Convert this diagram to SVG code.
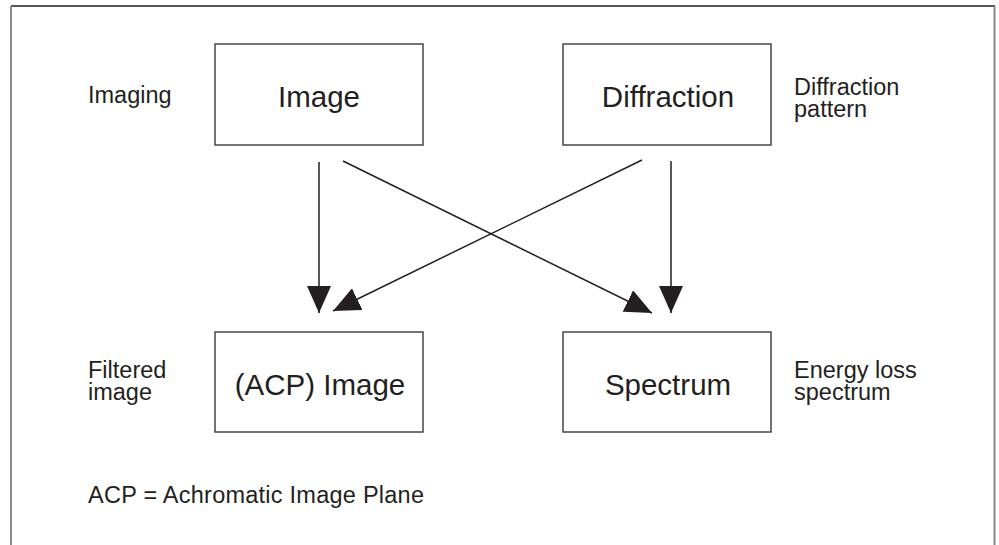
<svg xmlns="http://www.w3.org/2000/svg" width="999" height="545" viewBox="0 0 999 545">
<defs>
<marker id="ah" markerUnits="userSpaceOnUse" markerWidth="28" markerHeight="24" refX="27" refY="12" orient="auto">
<path d="M0,0 L27,12 L0,24 z" fill="#231f20"/>
</marker>
<style>
.box{fill:#fff;stroke:#3a3a3a;stroke-width:1.4}
.big{font-family:"Liberation Sans",Arial,sans-serif;font-size:29.5px;fill:#231f20;text-anchor:middle}
.lbl{font-family:"Liberation Sans",Arial,sans-serif;font-size:23.5px;fill:#231f20}
.con{stroke:#231f20;stroke-width:1.5;fill:none;marker-end:url(#ah)}
</style>
</defs>
<rect width="999" height="545" fill="#fff"/>
<g id="frame">
<line x1="11" y1="6" x2="995" y2="6" stroke="#231f20" stroke-width="1.5"/>
<line x1="11" y1="6" x2="11" y2="545" stroke="#8a8a8a" stroke-width="2"/>
<line x1="994.5" y1="6" x2="994.5" y2="545" stroke="#8a8a8a" stroke-width="2"/>
</g>
<g id="node-image">
<rect class="box" x="215" y="44" width="208" height="101"/>
<text class="big" x="319" y="107">Image</text>
</g>
<g id="node-diffraction">
<rect class="box" x="563" y="44" width="208" height="101"/>
<text class="big" x="668" y="107">Diffraction</text>
</g>
<g id="node-acp">
<rect class="box" x="215" y="332" width="208" height="100"/>
<text class="big" x="320" y="395">(ACP) Image</text>
</g>
<g id="node-spectrum">
<rect class="box" x="563" y="332" width="208" height="100"/>
<text class="big" x="668" y="395">Spectrum</text>
</g>
<g id="labels">
<text class="lbl" x="88" y="103">Imaging</text>
<text class="lbl" x="794" y="95">Diffraction</text>
<text class="lbl" x="794" y="117">pattern</text>
<text class="lbl" x="88" y="378">Filtered</text>
<text class="lbl" x="88" y="400">image</text>
<text class="lbl" x="794" y="378">Energy loss</text>
<text class="lbl" x="794" y="400">spectrum</text>
<text class="lbl" x="88" y="503" textLength="336">ACP = Achromatic Image Plane</text>
</g>
<g id="connectors">
<line class="con" x1="319" y1="162" x2="319" y2="313"/>
<line class="con" x1="343" y1="161" x2="652" y2="313"/>
<line class="con" x1="642" y1="160" x2="333" y2="311"/>
<line class="con" x1="671" y1="161" x2="671" y2="313"/>
</g>
</svg>
